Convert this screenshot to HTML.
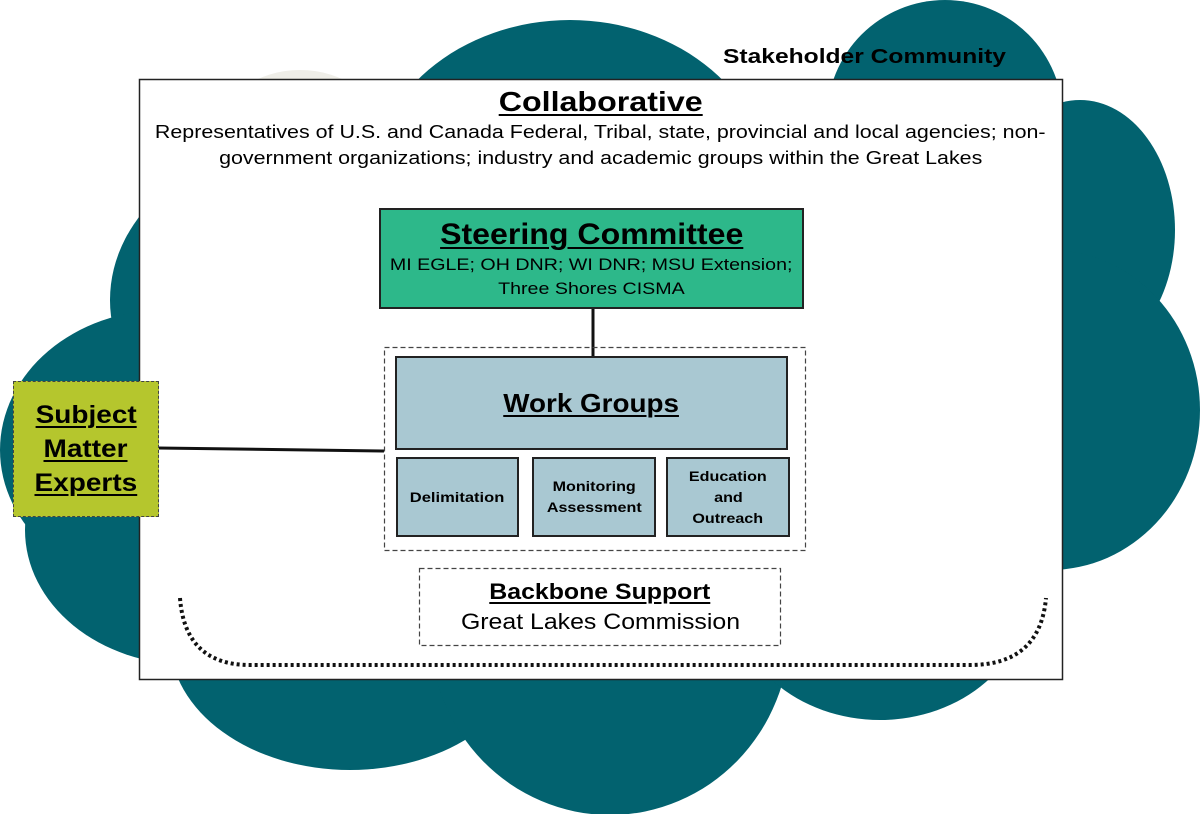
<!DOCTYPE html>
<html><head><meta charset="utf-8"><style>
body{margin:0;width:1200px;height:814px;overflow:hidden;background:#fff;font-family:"Liberation Sans",sans-serif;}
.a{position:absolute;box-sizing:border-box;}
.c{display:flex;flex-direction:column;align-items:center;justify-content:center;text-align:center;}
u{text-decoration-thickness:2px;text-underline-offset:3px;}
.s{display:inline-block;white-space:nowrap;}
</style></head><body>
<svg class="a" style="left:0;top:0" width="1200" height="814">
<g fill="#02626f">
<ellipse cx="300" cy="130" rx="80" ry="60" fill="#efeee8"/>
<ellipse cx="945" cy="118" rx="118" ry="118"/>
<ellipse cx="1080" cy="230" rx="95" ry="130"/>
<ellipse cx="1050" cy="410" rx="150" ry="160"/>
<ellipse cx="570" cy="190" rx="200" ry="170"/>
<ellipse cx="310" cy="300" rx="200" ry="160"/>
<ellipse cx="165" cy="450" rx="165" ry="140"/>
<ellipse cx="190" cy="530" rx="165" ry="135"/>
<ellipse cx="350" cy="640" rx="180" ry="130"/>
<ellipse cx="610" cy="630" rx="180" ry="185"/>
<ellipse cx="880" cy="590" rx="150" ry="130"/>
<rect x="300" y="250" width="700" height="400"/>
</g>
<rect x="139.5" y="79.5" width="923" height="600" fill="#fff" stroke="#222" stroke-width="1.5"/>
<path d="M180 598 Q185 665 250 665 L970 665 Q1040 665 1046 598" fill="none" stroke="#111" stroke-width="4" stroke-dasharray="3 3"/>
<line x1="593" y1="308" x2="593" y2="357" stroke="#111" stroke-width="3"/>
<line x1="158" y1="448" x2="384" y2="451" stroke="#111" stroke-width="3"/>
<rect x="384.5" y="347.5" width="421" height="203" fill="none" stroke="#444" stroke-width="1.2" stroke-dasharray="5 3"/>
<rect x="419.5" y="568.5" width="361" height="77" fill="#fff" stroke="#444" stroke-width="1.2" stroke-dasharray="5 3"/>
</svg>
<div class="a" style="left:723px;top:46px;font-size:20px;font-weight:bold;transform-origin:0 0;transform:scaleX(1.23);white-space:nowrap;">Stakeholder Community</div>
<div class="a c" style="left:139px;top:86px;width:923px;">
<div style="font-size:28px;font-weight:bold;"><span class="s" style="transform:scaleX(1.15)"><u>Collaborative</u></span></div>
<div style="font-size:18px;line-height:26px;margin-top:1px;"><span class="s" style="transform:scaleX(1.19)">Representatives of U.S. and Canada Federal, Tribal, state, provincial and local agencies; non-</span><br><span class="s" style="transform:scaleX(1.19)">government organizations; industry and academic groups within the Great Lakes</span></div>
</div>
<div class="a c" style="left:379px;top:208px;width:425px;height:101px;background:#2db88a;border:2px solid #222;">
<div style="font-size:30px;font-weight:bold;line-height:34px;margin-top:2px;"><span class="s" style="transform:scaleX(1.07)"><u>Steering Committee</u></span></div>
<div style="font-size:16.5px;line-height:24px;margin-top:1px;"><span class="s" style="transform:scaleX(1.19)">MI EGLE; OH DNR; WI DNR; MSU Extension;</span><br><span class="s" style="transform:scaleX(1.19)">Three Shores CISMA</span></div>
</div>
<div class="a c" style="left:395px;top:356px;width:393px;height:94px;background:#a9c8d2;border:2px solid #222;font-size:26px;font-weight:bold;"><span class="s" style="transform:scaleX(1.07)"><u>Work Groups</u></span></div>
<div class="a c" style="left:396px;top:457px;width:123px;height:80px;background:#a9c8d2;border:2px solid #222;font-size:14px;font-weight:bold;"><span class="s" style="transform:scaleX(1.18)">Delimitation</span></div>
<div class="a c" style="left:532px;top:457px;width:124px;height:80px;background:#a9c8d2;border:2px solid #222;font-size:14px;font-weight:bold;line-height:21px;"><span class="s" style="transform:scaleX(1.15)">Monitoring</span><span class="s" style="transform:scaleX(1.15)">Assessment</span></div>
<div class="a c" style="left:666px;top:457px;width:124px;height:80px;background:#a9c8d2;border:2px solid #222;font-size:14px;font-weight:bold;line-height:21px;"><span class="s" style="transform:scaleX(1.15)">Education</span><span class="s" style="transform:scaleX(1.15)">and</span><span class="s" style="transform:scaleX(1.15)">Outreach</span></div>
<div class="a c" style="left:13px;top:381px;width:146px;height:136px;background:#b5c62d;border:1.5px dashed #444;font-size:25px;font-weight:bold;line-height:34px;"><span class="s" style="transform:scaleX(1.12)"><u>Subject</u></span><span class="s" style="transform:scaleX(1.12)"><u>Matter</u></span><span class="s" style="transform:scaleX(1.12)"><u>Experts</u></span></div>
<div class="a c" style="left:419px;top:577px;width:362px;">
<div style="font-size:22px;font-weight:bold;line-height:30px;"><span class="s" style="transform:scaleX(1.13)"><u>Backbone Support</u></span></div>
<div style="font-size:22px;line-height:30px;"><span class="s" style="transform:scaleX(1.13)">Great Lakes Commission</span></div>
</div>
</body></html>
